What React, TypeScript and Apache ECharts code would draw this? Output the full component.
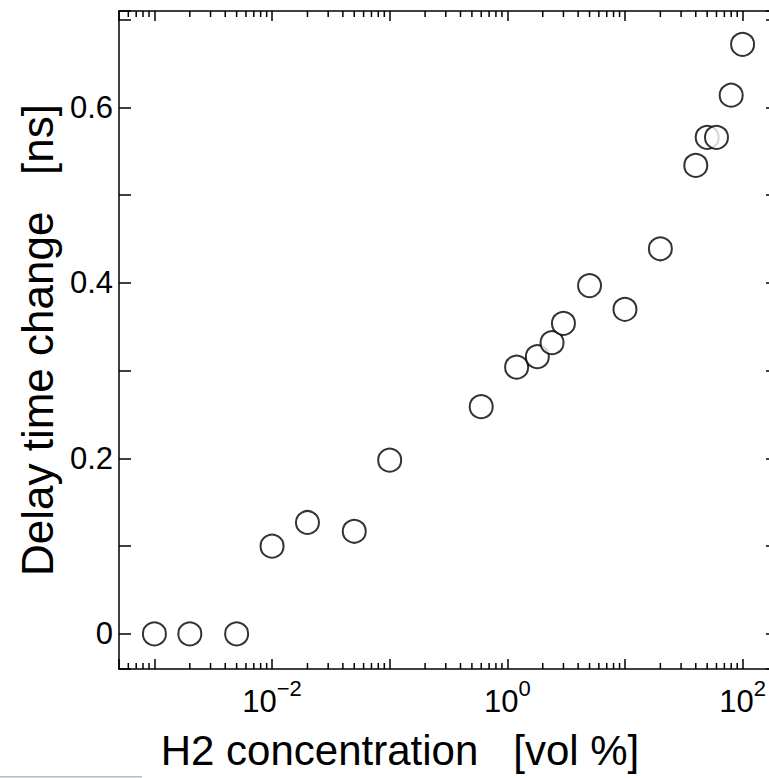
import React, { useEffect, useRef } from "react";
import * as echarts from "echarts";

// H2 concentration [vol %]
const concentration = [0.001, 0.002, 0.005, 0.01, 0.02, 0.05, 0.1, 0.6, 1.2, 1.8, 2.4, 3, 5, 10, 20, 40, 50, 60, 80, 100];
// Delay time change [ns]
const delayChange = [0, 0, 0, 0.1, 0.127, 0.117, 0.198, 0.259, 0.304, 0.316, 0.332, 0.354, 0.397, 0.37, 0.439, 0.534, 0.566, 0.566, 0.614, 0.672];

const X_MIN = 5e-4;
const X_MAX = 200;
const Y_MIN = -0.04;
const Y_MAX = 0.71;

// minor ticks of the log axis
const minorMantissas = [2, 3, 4, 5, 6, 7, 8, 9];
const minorDecades = [1e-4, 1e-3, 1e-2, 1e-1, 1, 10, 100];
const yLabelValues = [0, 0.2, 0.4, 0.6];
const xLabelExponents = [-2, 0, 2];

const FONT = "'Liberation Sans', Arial, Helvetica, sans-serif";

export default function App() {
  const ref = useRef<HTMLDivElement>(null);
  useEffect(() => {
    if (!ref.current) return;
    const chart = echarts.init(ref.current, null, { renderer: "svg" });
    const minorTicks: number[][] = [];
    minorDecades.forEach((d) =>
      minorMantissas.forEach((m) => {
        const v = m * d;
        if (v > X_MIN && v < X_MAX) minorTicks.push([v, 0]);
      })
    );
    const xLabel = (val: number) => {
      const e = Math.log10(val);
      const r = Math.round(e);
      if (Math.abs(e - r) > 1e-6) return "";
      if (xLabelExponents.indexOf(r) < 0) return "";
      return "{b|10}{s|" + (r < 0 ? "\u2212" + -r : String(r)) + "}";
    };
    const yLabel = (val: number) => {
      for (const v of yLabelValues) if (Math.abs(val - v) < 1e-6) return String(v);
      return "";
    };
    const axisLine = { show: true, onZero: false, lineStyle: { color: "#000", width: 1.5 } };
    const tickStyle = { color: "#000", width: 1.5 };
    const option: any = {
      animation: false,
      backgroundColor: "#fff",
      grid: { left: 119, top: 11, width: 659, height: 658, containLabel: false, outerBoundsMode: "none" },
      xAxis: [
        {
          type: "log",
          logBase: 10,
          min: X_MIN,
          max: X_MAX,
          position: "bottom",
          axisLine,
          axisTick: { show: true, inside: true, length: 10, lineStyle: tickStyle },
          splitLine: { show: false },
          axisLabel: {
            show: true,
            margin: 8,
            formatter: xLabel,
            rich: {
              b: { fontSize: 31, fontFamily: FONT, color: "#000", lineHeight: 40, verticalAlign: "bottom" },
              s: { fontSize: 22, fontFamily: FONT, color: "#000", lineHeight: 26, verticalAlign: "top" },
            },
          },
          name: "H2 concentration   [vol %]",
          nameLocation: "middle",
          nameGap: 60,
          nameTextStyle: { fontSize: 42, fontFamily: FONT, color: "#000", padding: [0, 97, 0, 0] },
        },
        {
          type: "log",
          logBase: 10,
          min: X_MIN,
          max: X_MAX,
          position: "top",
          axisLine,
          axisTick: { show: true, inside: true, length: 10, lineStyle: tickStyle },
          splitLine: { show: false },
          axisLabel: { show: false },
        },
      ],
      yAxis: [
        {
          type: "value",
          min: Y_MIN,
          max: Y_MAX,
          splitNumber: 7,
          position: "left",
          axisLine,
          axisTick: { show: true, inside: true, length: 12, lineStyle: tickStyle },
          splitLine: { show: false },
          axisLabel: { show: true, margin: 6, formatter: yLabel, fontSize: 31, fontFamily: FONT, color: "#000" },
          name: "Delay time change   [ns]",
          nameLocation: "middle",
          nameRotate: 90,
          nameGap: 56,
          nameTextStyle: { fontSize: 44, fontFamily: FONT, color: "#000" },
        },
        {
          type: "value",
          min: Y_MIN,
          max: Y_MAX,
          splitNumber: 7,
          position: "right",
          axisLine,
          axisTick: { show: true, inside: true, length: 12, lineStyle: tickStyle },
          splitLine: { show: false },
          axisLabel: { show: false },
        },
      ],
      series: [
        {
          type: "custom",
          xAxisIndex: 0,
          yAxisIndex: 0,
          silent: true,
          clip: false,
          data: minorTicks,
          encode: { x: 0, y: 1 },
          renderItem: (params: any, api: any) => {
            const v = api.value(0);
            const b = api.coord([v, Y_MIN]);
            const t = api.coord([v, Y_MAX]);
            const st = { stroke: "#000", lineWidth: 1.5 };
            return {
              type: "group",
              children: [
                { type: "line", shape: { x1: b[0], y1: b[1], x2: b[0], y2: b[1] - 6 }, style: st },
                { type: "line", shape: { x1: t[0], y1: t[1], x2: t[0], y2: t[1] + 6 }, style: st },
              ],
            };
          },
          z: 1,
        },
        {
          type: "scatter",
          xAxisIndex: 0,
          yAxisIndex: 0,
          data: concentration.map((c, i) => [c, delayChange[i]]),
          symbol: "circle",
          symbolSize: 23,
          itemStyle: { color: "#fff", borderColor: "#000", borderWidth: 2 },
          z: 3,
        },
      ],
      graphic: [
        { type: "rect", shape: { x: 0, y: 776, width: 142, height: 1.5 }, style: { fill: "#b4bcc4" }, silent: true },
      ],
    };
    chart.setOption(option);
    return () => chart.dispose();
  }, []);
  return (
    <div style={{ position: "fixed", left: 0, top: 0, width: 769, height: 778, overflow: "hidden", background: "#fff" }}>
      <div ref={ref} style={{ width: 790, height: 778 }} />
    </div>
  );
}
